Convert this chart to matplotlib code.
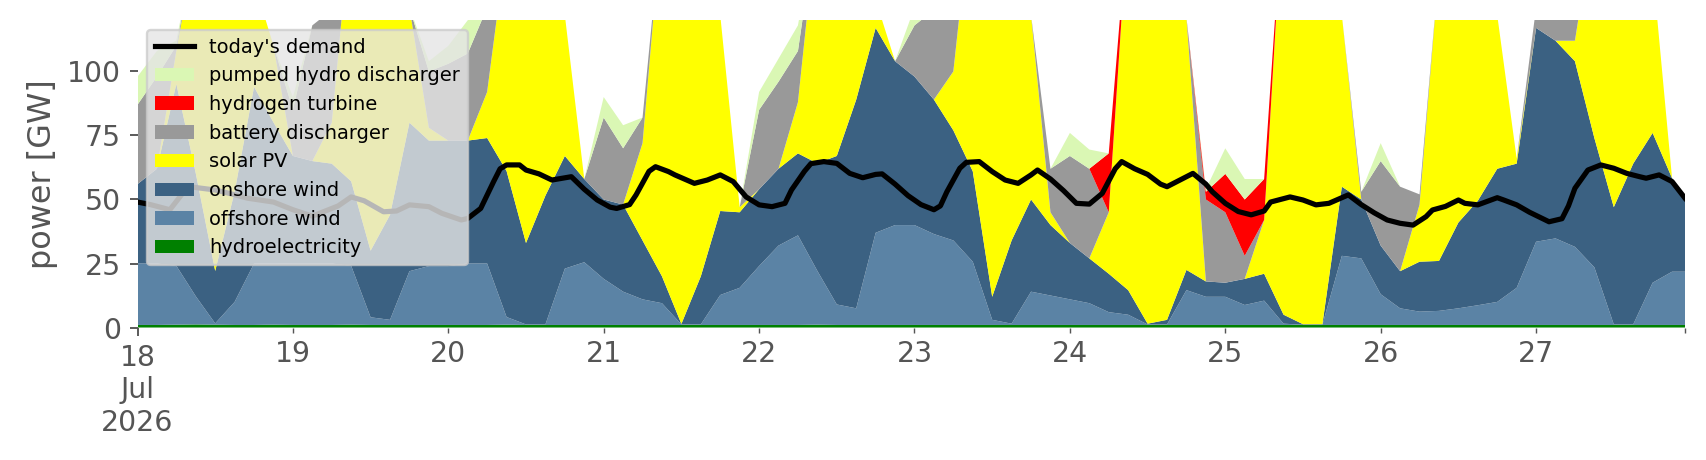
import numpy as np
import pandas as pd
import matplotlib
matplotlib.use("Agg")
import matplotlib.pyplot as plt
import matplotlib.dates as mdates
from matplotlib.ticker import FixedLocator, FuncFormatter

start = pd.Timestamp("2026-07-18 00:00")

# 3-hourly snapshots, last one is 27 Jul 23:00
times = pd.date_range(start, periods=80, freq="3h").append(
    pd.DatetimeIndex(["2026-07-27 23:00"]))

# GW, one row per day (8 snapshots), final value = 27 Jul 23:00
hydro = [1.0, 1.0, 1.1, 1.2, 1.1, 1.0, 1.0, 1.1,
         1.0, 1.0, 1.0, 1.1, 1.0, 1.0, 1.0, 1.0,
         1.0, 1.0, 1.0, 1.1, 1.0, 1.0, 1.0, 1.0,
         1.0, 1.0, 1.0, 1.0, 1.0, 1.0, 1.0, 1.0,
         1.0, 1.0, 1.0, 1.1, 1.0, 1.0, 1.0, 1.0,
         1.0, 1.0, 1.0, 1.0, 1.0, 1.0, 1.0, 1.0,
         1.0, 1.0, 1.0, 1.0, 1.0, 1.0, 1.0, 1.0,
         1.0, 1.0, 1.0, 1.0, 1.0, 1.0, 1.0, 1.0,
         1.0, 1.0, 1.0, 1.0, 1.0, 1.0, 1.0, 1.0,
         1.0, 1.0, 1.0, 1.0, 1.0, 1.0, 1.0, 1.0,
         1.0]
offshore = [24, 24, 23, 11, 0.5, 9, 24, 24,
            24, 24, 24, 23, 3, 2, 21, 23,
            23, 24, 24, 3, 0.2, 0.2, 22, 24.5,
            18, 13, 10, 8.5, 0.2, 0.2, 11.7, 14.5,
            23, 31, 35, 21, 8, 6.5, 36, 39,
            39, 35.5, 33, 24.7, 2, 0.5, 13, 11.5,
            10, 8.5, 5, 4, 0.2, 0.2, 13.6, 11,
            11, 7.8, 9.5, 0.5, 0.1, 0.1, 27, 26,
            12, 6.5, 5.2, 5.5, 6.5, 7.7, 9, 14.5,
            32.5, 33.8, 30.5, 22.5, 0.2, 0.2, 16.5, 20.8,
            20.8]
onshore = [31, 37, 71, 48, 20.5, 43, 69, 55,
           42, 40, 39, 33, 26, 41, 58, 49,
           49, 48, 49, 57, 31.8, 50.3, 44, 32.5,
           31, 34, 23, 10.5, 0.2, 18.8, 32.8, 29.5,
           30, 30, 32, 42, 58, 81.5, 80, 64,
           58, 52.5, 43, 35.3, 9, 32.5, 36, 27.5,
           22, 17.5, 15, 9.6, 0.3, 1.8, 7.9, 6,
           5.5, 10.2, 10.5, 3.5, 0.2, 0.2, 27, 23,
           19, 14.5, 19.5, 19.5, 33.5, 40.8, 52, 48.5,
           83.5, 77.2, 72.5, 50.5, 45.8, 62.8, 58.5, 36.5,
           28.2]
solar = [0, 0, 13, 90, 148, 117, 41, 30,
         0, 0, 16, 103, 150, 126, 45, 5,
         0, 0, 18, 89, 137, 118.5, 55, 0,
         0, 0, 38, 140, 173.6, 150, 76.5, 2,
         0, 0, 20, 96, 83, 61, 11, 0,
         0, 0, 23, 109, 163, 136, 72, 5,
         0, 0, 24, 145.4, 173.5, 167, 98.5, 0,
         0, 0, 21, 165, 178.7, 173.7, 67, 0,
         0, 0, 22.3, 114, 129, 120.5, 60, 2,
         0, 0, 8, 86, 123, 106, 64, 0,
         0]
battery = [31, 36, 2, 0, 0, 0, 0, 0,
           18, 53, 44, 0, 0, 0, 0, 22,
           30, 34, 33, 0, 0, 0, 0, 0,
           32, 22, 10, 0, 0, 0, 0, 0,
           31, 34, 20, 0, 0, 0, 0, 0,
           20, 35, 25, 0, 0, 0, 0, 17,
           34, 35, 0, 0, 0, 0, 0, 32,
           27.5, 9, 0, 0, 0, 0, 0, 3,
           33, 33, 4, 0, 0, 0, 0, 0,
           8, 13, 13, 0, 0, 0, 0, 0,
           0]
hydrogen = [0, 0, 0, 0, 0, 0, 0, 0,
            0, 0, 0, 0, 0, 0, 0, 0,
            0, 0, 0, 0, 0, 0, 0, 0,
            0, 0, 0, 0, 0, 0, 0, 0,
            0, 0, 0, 0, 0, 0, 0, 0,
            0, 0, 0, 0, 0, 0, 0, 0,
            0, 0, 23, 0, 0, 0, 0, 3,
            15, 22, 16, 0, 0, 0, 0, 0,
            0, 0, 0, 0, 0, 0, 0, 0,
            0, 0, 0, 0, 0, 0, 0, 0,
            0]
pumped_hydro = [11, 10, 2, 0, 0, 0, 0, 0,
                5, 0, 0, 0, 0, 0, 0, 4,
                7, 13, 0, 0, 0, 0, 0, 0,
                8, 9, 0, 0, 0, 0, 0, 0,
                7, 9, 10, 0, 0, 0, 0, 0,
                7, 0, 0, 0, 0, 0, 0, 0,
                9, 7.5, 0, 0, 0, 0, 0, 1,
                10, 8, 0, 0, 0, 0, 0, 0,
                7, 0, 0, 0, 0, 0, 0, 0,
                0, 0, 0, 0, 0, 0, 0, 0,
                0]

# demand was read at a finer step (hours after 18 Jul 00:00)
demand_hour = [0, 2, 5, 7, 8, 12, 14, 17, 21, 24, 27, 31, 33, 35, 38, 40,
               42, 45, 47, 50, 51, 53, 55, 56, 57, 59, 60, 62, 64, 67, 69, 71,
               73, 74, 76, 77, 79, 80, 82, 83, 86, 88, 90, 92, 94, 96, 98, 100,
               101, 103, 104, 106, 108, 110, 112, 114, 115, 117, 119, 121, 123, 124, 125, 127,
               128, 130, 132, 134, 136, 138, 139, 141, 143, 145, 147, 149, 151, 152, 154, 156,
               158, 159, 161, 163, 165, 166, 168, 170, 172, 174, 175, 178, 180, 182, 184, 187,
               189, 191, 193, 195, 197, 199, 200, 202, 204, 205, 207, 210, 211, 213, 215, 218,
               220, 221, 222, 224, 226, 228, 230, 232, 233, 235, 237, 239]
demand = [49, 48, 46, 52.5, 55, 53.7, 52.5, 50.5, 49, 46, 43.5, 47.5, 51, 49.5, 45.2, 45.5,
          47.9, 47.2, 44.6, 42, 42.6, 46.5, 57, 62, 63.5, 63.5, 61.5, 60, 57.6, 58.9, 54, 49.8,
          47, 46.5, 48, 51.8, 61, 62.8, 60.9, 59.6, 56.3, 57.6, 59.6, 57, 51, 47.9, 47.2, 48.5,
          53.7, 61, 64, 64.8, 64.1, 60.2, 58.5, 59.8, 60, 56, 51.5, 48, 46, 47.5, 53, 62.2,
          64.5, 64.8, 60.9, 57.6, 56.3, 59.6, 61.5, 58, 53.5, 48.5, 48.2, 52.4, 62, 64.8, 62, 59.8,
          56, 55, 57.6, 60.2, 56, 53, 48.5, 45.3, 44, 45.5, 49, 51, 49.8, 47.9, 48.5, 51.8,
          48, 44.8, 42, 40.7, 40, 43.3, 45.9, 47.3, 49.8, 48.5, 47.9, 50.7, 49.8, 47.9, 45, 41.3,
          42.5, 47.5, 54.4, 61.5, 63.5, 62.2, 60.2, 58.9, 58.3, 59.6, 57, 50.5]

labels = ["hydroelectricity", "offshore wind", "onshore wind", "solar PV",
          "battery discharger", "hydrogen turbine", "pumped hydro discharger"]
colors = ["#008000", "#5b83a5", "#3b6182", "#ffff00",
          "#999999", "#ff0000", "#daf7b4"]

fig = plt.figure(figsize=(1706 / 170, 460 / 170), dpi=170)
ax = fig.add_axes([0.0806, 0.288, 0.9071, 0.668])

x = mdates.date2num(times.to_pydatetime())
xd = mdates.date2num((start + pd.to_timedelta(demand_hour, unit="h")).to_pydatetime())
polys = ax.stackplot(x, hydro, offshore, onshore, solar, battery, hydrogen,
                     pumped_hydro, colors=colors, labels=labels, linewidth=0)
line, = ax.plot(xd, demand, color="black", lw=2.2, label="today's demand")

ax.set_xlim(x[0], x[-1])
ax.set_ylim(0, 120)
ax.set_yticks([0, 25, 50, 75, 100])
ax.set_ylabel("power [GW]", fontsize=13.5, color="#555555", labelpad=4)

# pandas-like date axis: month/year on the first day, day numbers after
days = mdates.date2num(pd.date_range("2026-07-19", "2026-07-27", freq="D").to_pydatetime())
ax.xaxis.set_major_locator(FixedLocator([x[0]]))
ax.xaxis.set_major_formatter(FuncFormatter(lambda v, p: "18\nJul\n2026"))
ax.xaxis.set_minor_locator(FixedLocator(list(days) + [x[-1]]))
ax.xaxis.set_minor_formatter(FuncFormatter(
    lambda v, p: "" if v > days[-1] + 0.5 else mdates.num2date(v).strftime("%-d")))

ax.tick_params(axis="both", which="major", labelsize=12, colors="#555555", length=3.5)
ax.tick_params(axis="x", which="minor", labelsize=12, colors="#555555", length=2)
for s in ax.spines.values():
    s.set_visible(False)

handles = [line] + polys[::-1]
leg = ax.legend(handles=handles, labels=[h.get_label() for h in handles],
                loc="upper left", fontsize=8.2, framealpha=0.8,
                facecolor="#e5e5e5", edgecolor="0.8")

fig.savefig("out.png", dpi=170)
